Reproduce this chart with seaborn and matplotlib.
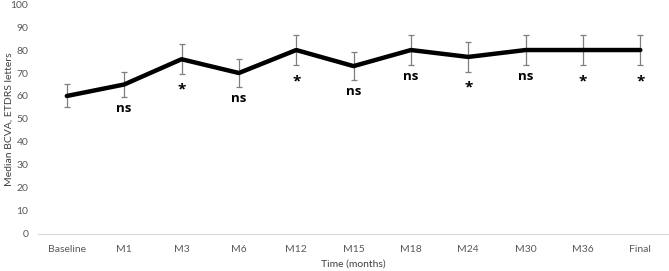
import pandas as pd
import seaborn as sns
import matplotlib.pyplot as plt

# values
timepoints = ["Baseline", "M1", "M3", "M6", "M12", "M15", "M18", "M24", "M30", "M36", "Final"]
median_bcva = [60, 65, 76, 70, 80, 73, 80, 77, 80, 80, 80]
err_bcva = [5, 5.6, 6.5, 6, 6.7, 6, 6.7, 6.6, 6.7, 6.7, 6.7]
signif = ["", "ns", "*", "ns", "*", "ns", "ns", "*", "ns", "*", "*"]

df = pd.DataFrame({"time": timepoints, "bcva": median_bcva, "err": err_bcva, "sig": signif})

sns.set_style("white")
plt.rcParams["font.family"] = ["Lato", "DejaVu Sans"]

fig, ax = plt.subplots(figsize=(6.69, 2.71), dpi=100)
fig.subplots_adjust(left=0.057, right=1.0, bottom=0.137, top=0.985)

ax.errorbar(df["time"], df["bcva"], yerr=df["err"], fmt="none",
            ecolor="#7f7f7f", elinewidth=0.9, capsize=2.5, capthick=0.9, zorder=1)
sns.lineplot(data=df, x="time", y="bcva", sort=False, color="black",
             linewidth=3.2, ax=ax, zorder=2)

for i, row in df.iterrows():
    if row["sig"]:
        y = row["bcva"] - row["err"] - 5.0
        size = 9.5
        if row["sig"] == "*":
            y -= 1.8
            size = 11
        ax.text(i, y, row["sig"], ha="center", va="center", family="Open Sans",
                fontsize=size, fontweight="bold", color="black")

ax.set_ylim(0, 100)
ax.set_xlim(-0.5, len(timepoints) - 0.5)
ax.set_yticks(range(0, 101, 10))
ax.tick_params(axis="both", length=0, labelsize=7.5, colors="#595959")
ax.tick_params(axis="y", pad=7)
ax.tick_params(axis="x", pad=8)

for side in ["top", "right", "left"]:
    ax.spines[side].set_visible(False)
ax.spines["bottom"].set_color("#d9d9d9")
ax.spines["bottom"].set_linewidth(0.8)

ax.set_xlabel("Time (months)", fontsize=7.5, color="#404040", labelpad=4)
ax.set_ylabel("Median BCVA, ETDRS letters", fontsize=7.5, color="#404040")
ax.yaxis.set_label_coords(-0.039, 0.5)

plt.savefig("out.png", dpi=100)
plt.close()
